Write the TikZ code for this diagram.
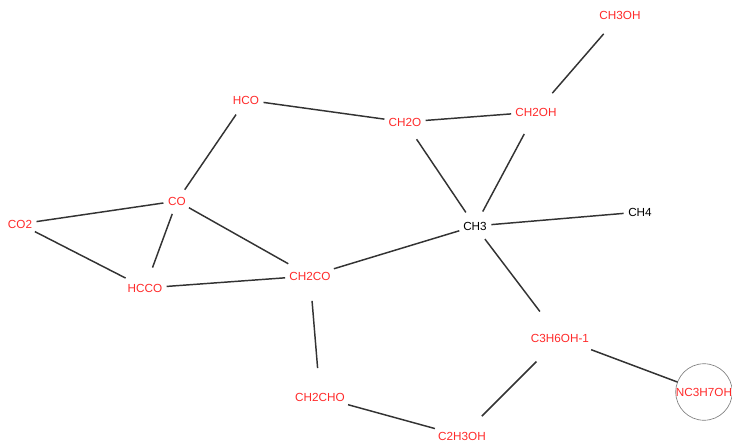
\documentclass[tikz,border=0pt]{standalone}
\usepackage{fontspec}
\setmainfont{Liberation Sans}
\definecolor{nred}{HTML}{FF2A2A}
\definecolor{edgec}{HTML}{333333}
\begin{document}
\begin{tikzpicture}[x=0.75pt,y=-0.75pt,
  sp/.style={circle, font=\fontsize{8.8pt}{10pt}\selectfont, text=nred, inner sep=0pt, outer sep=3pt},
  spb/.style={sp, text=black},
  edge/.style={draw=edgec, line width=1.1pt}]
\useasboundingbox (0,0) rectangle (732,442);
\node[sp] (ch3oh) at (620,15) {CH3OH};
\node[sp] (ch2oh) at (536,112) {CH2OH};
\node[sp] (ch2o) at (405,122) {CH2O};
\node[sp] (hco) at (246,100) {HCO};
\node[sp] (co) at (177,201) {CO};
\node[sp] (co2) at (20,224) {CO2};
\node[sp] (hcco) at (145,288) {HCCO};
\node[sp] (ch2co) at (310,276) {CH2CO};
\node[spb] (ch3) at (475,226) {CH3};
\node[spb] (ch4) at (640,212) {CH4};
\node[sp] (c3h6oh) at (560,338) {C3H6OH-1};
\node[sp, draw=gray, line width=0.5pt, outer sep=0pt, minimum size=56*0.75pt] (nc3h7oh) at (704,392) {NC3H7OH};
\node[sp] (ch2cho) at (320,397) {CH2CHO};
\node[sp] (c2h3oh) at (462,436) {C2H3OH};
\draw[edge] (ch3oh) -- (ch2oh);
\draw[edge] (ch2oh) -- (ch2o);
\draw[edge] (ch2o) -- (hco);
\draw[edge] (hco) -- (co);
\draw[edge] (co) -- (co2);
\draw[edge] (co) -- (hcco);
\draw[edge] (co) -- (ch2co);
\draw[edge] (co2) -- (hcco);
\draw[edge] (hcco) -- (ch2co);
\draw[edge] (ch2co) -- (ch3);
\draw[edge] (ch2co) -- (ch2cho);
\draw[edge] (ch2o) -- (ch3);
\draw[edge] (ch2oh) -- (ch3);
\draw[edge] (ch3) -- (ch4);
\draw[edge] (ch3) -- (c3h6oh);
\draw[edge] (c3h6oh) -- (nc3h7oh);
\draw[edge] (c3h6oh) -- (c2h3oh);
\draw[edge] (ch2cho) -- (c2h3oh);
\end{tikzpicture}
\end{document}
